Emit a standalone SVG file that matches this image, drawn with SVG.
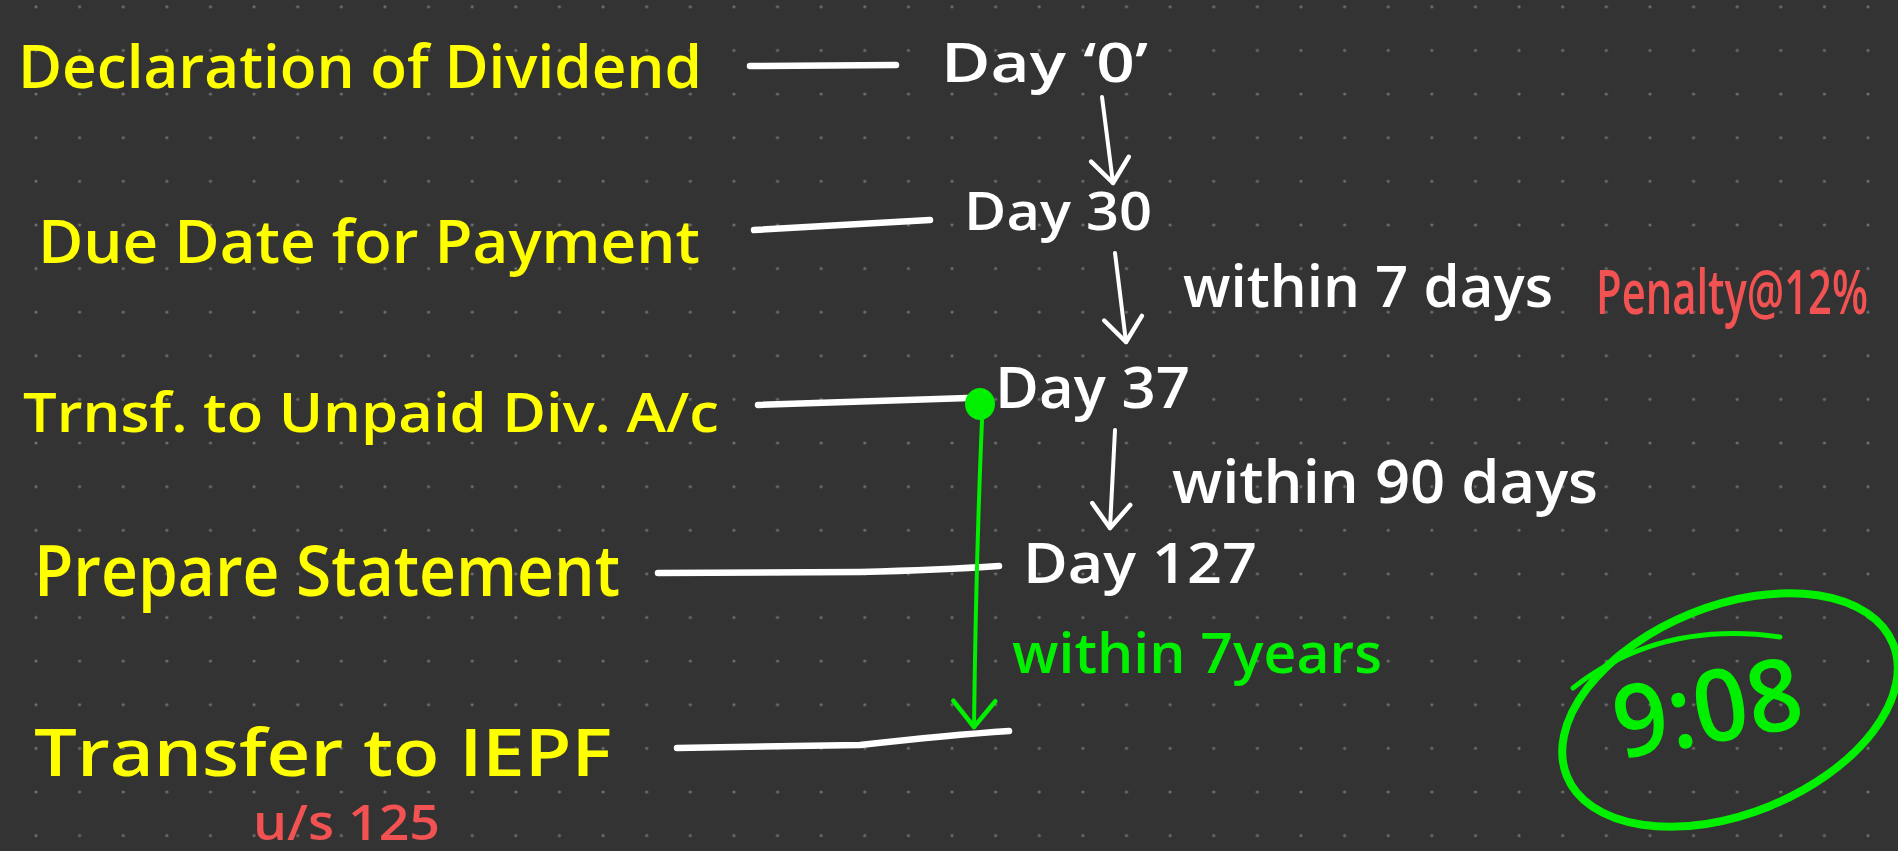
<svg xmlns="http://www.w3.org/2000/svg" width="1898" height="851" viewBox="0 0 1898 851">
<defs>
<pattern id="dots" x="36" y="6.8" width="43.62" height="43.62" patternUnits="userSpaceOnUse">
<circle cx="0" cy="0" r="1.6" fill="#6e6e6e"/>
<circle cx="43.62" cy="0" r="1.6" fill="#6e6e6e"/>
<circle cx="0" cy="43.62" r="1.6" fill="#6e6e6e"/>
<circle cx="43.62" cy="43.62" r="1.6" fill="#6e6e6e"/>
</pattern>
<marker id="vw" markerUnits="userSpaceOnUse" markerWidth="60" markerHeight="60" refX="30" refY="30" orient="auto" overflow="visible">
<path d="M6 11 L30 30 L6 49" fill="none" stroke="#ffffff" stroke-width="4.5" stroke-linecap="round" stroke-linejoin="round"/>
</marker>
<marker id="vg" markerUnits="userSpaceOnUse" markerWidth="60" markerHeight="60" refX="30" refY="30" orient="auto" overflow="visible">
<path d="M4 9 L30 30 L4 51" fill="none" stroke="#00f000" stroke-width="4.5" stroke-linecap="round" stroke-linejoin="round"/>
</marker>
<style>
.t{font-family:"Open Sans","Liberation Sans",sans-serif;font-weight:600;}
.y{fill:#ffff00;}
.w{fill:#ffffff;}
.r{fill:#f25252;}
.g{fill:#00f000;}
.ln{fill:none;stroke:#ffffff;stroke-width:6.5;stroke-linecap:round;stroke-linejoin:round;}
.ar{fill:none;stroke:#ffffff;stroke-width:4;stroke-linecap:round;marker-end:url(#vw);}
.ag{fill:none;stroke:#00f000;stroke-width:4;stroke-linecap:round;marker-end:url(#vg);}
</style>
</defs>
<rect x="0" y="0" width="1898" height="851" fill="#333333"/>
<rect x="0" y="0" width="1898" height="851" fill="url(#dots)"/>

<g id="n-declaration"><text class="t y" x="18" y="88" font-size="60" textLength="684" lengthAdjust="spacingAndGlyphs">Declaration of Dividend</text></g>
<g id="n-due-date"><text class="t y" x="38" y="263" font-size="60" textLength="662" lengthAdjust="spacingAndGlyphs">Due Date for Payment</text></g>
<g id="n-transfer-unpaid"><text class="t y" x="23" y="432" font-size="55" textLength="696" lengthAdjust="spacingAndGlyphs">Trnsf. to Unpaid Div. A/c</text></g>
<g id="n-prepare"><text class="t y" x="34" y="596" font-size="70" textLength="586" lengthAdjust="spacingAndGlyphs">Prepare  Statement</text></g>
<g id="n-iepf"><text class="t y" x="34" y="776" font-size="66" textLength="578" lengthAdjust="spacingAndGlyphs">Transfer to IEPF</text>
<text class="t r" x="253" y="840" font-size="48" textLength="187" lengthAdjust="spacingAndGlyphs">u/s 125</text></g>

<g id="n-day0"><text class="t w" x="941" y="82" font-size="55" textLength="207" lengthAdjust="spacingAndGlyphs">Day ‘0’</text></g>
<g id="n-day30"><text class="t w" x="964" y="230" font-size="53" textLength="188" lengthAdjust="spacingAndGlyphs">Day 30</text></g>
<g id="n-day37"><text class="t w" x="995" y="408" font-size="57" textLength="195" lengthAdjust="spacingAndGlyphs">Day 37</text></g>
<g id="n-day127"><text class="t w" x="1023" y="583" font-size="56" textLength="234" lengthAdjust="spacingAndGlyphs">Day 127</text></g>

<g id="n-time"><ellipse cx="1730" cy="710" rx="176" ry="104" transform="rotate(-22 1730 710)" fill="none" stroke="#00f000" stroke-width="8"/>
<path d="M1573 688 Q1660 620 1780 637" fill="none" stroke="#00f000" stroke-width="5" stroke-linecap="round"/>
<text class="t g" x="1707" y="743" font-size="100" text-anchor="middle" transform="rotate(-10 1707 705)" textLength="190" lengthAdjust="spacingAndGlyphs">9:08</text></g>

<g id="connectors">
<path class="ln" d="M750 66 L896 65"/>
<path class="ln" d="M754 230 L930 220"/>
<path class="ln" d="M758 405 L968 398"/>
<path class="ln" d="M658 573 L860 572 Q940 570 999 566"/>
<path class="ln" d="M677 748 L860 745 Q950 735 1009 731"/>
<path class="ar" d="M1102 97 L1113 183"/>
<path class="ar" d="M1115 253 L1126 342"/>
<path class="ar" d="M1115 430 L1110 528"/>
<path class="ag" d="M982 420 Q976 560 974 727"/>
<ellipse cx="980" cy="404" rx="15" ry="16" fill="#00f000"/>
<text class="t w" x="1183" y="307" font-size="58" textLength="370" lengthAdjust="spacingAndGlyphs">within 7 days</text>
<text class="t r" x="0" y="0" font-size="44" transform="translate(1596 314) scale(1 1.4)" textLength="272" lengthAdjust="spacingAndGlyphs">Penalty@12%</text>
<text class="t w" x="1172" y="503" font-size="60" textLength="426" lengthAdjust="spacingAndGlyphs">within 90 days</text>
<text class="t g" x="1012" y="673" font-size="56" textLength="370" lengthAdjust="spacingAndGlyphs">within 7years</text>
</g>
</svg>
